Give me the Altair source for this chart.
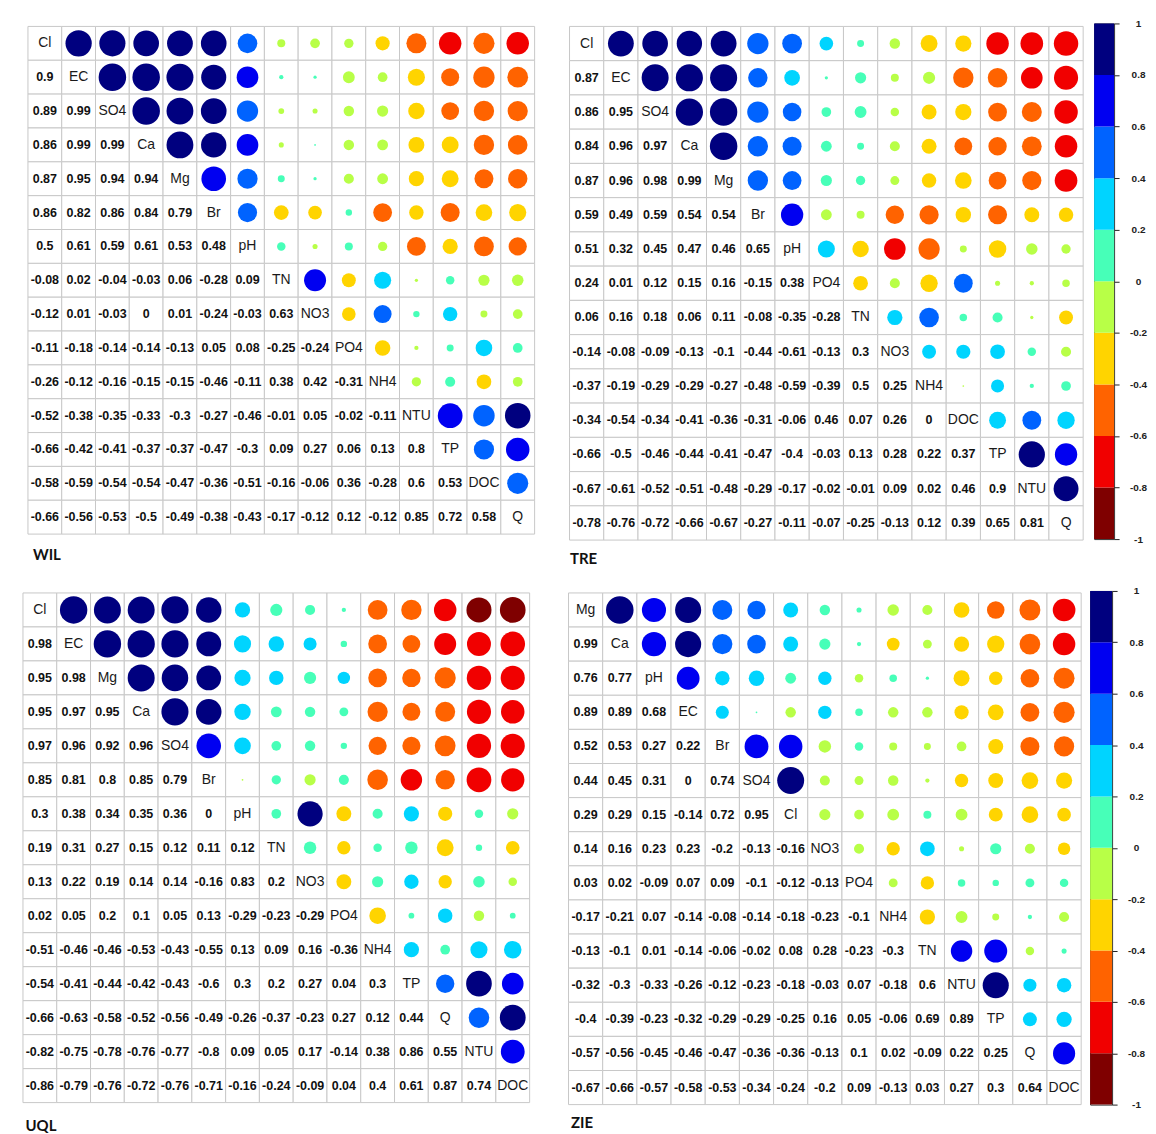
import altair as alt
import pandas as pd

# ---------------- data ----------------
WIL_vars = ["Cl", "EC", "SO4", "Ca", "Mg", "Br", "pH", "TN", "NO3", "PO4", "NH4", "NTU", "TP", "DOC", "Q"]
WIL_lower = [
    [0.9],
    [0.89, 0.99],
    [0.86, 0.99, 0.99],
    [0.87, 0.95, 0.94, 0.94],
    [0.86, 0.82, 0.86, 0.84, 0.79],
    [0.5, 0.61, 0.59, 0.61, 0.53, 0.48],
    [-0.08, 0.02, -0.04, -0.03, 0.06, -0.28, 0.09],
    [-0.12, 0.01, -0.03, 0, 0.01, -0.24, -0.03, 0.63],
    [-0.11, -0.18, -0.14, -0.14, -0.13, 0.05, 0.08, -0.25, -0.24],
    [-0.26, -0.12, -0.16, -0.15, -0.15, -0.46, -0.11, 0.38, 0.42, -0.31],
    [-0.52, -0.38, -0.35, -0.33, -0.3, -0.27, -0.46, -0.01, 0.05, -0.02, -0.11],
    [-0.66, -0.42, -0.41, -0.37, -0.37, -0.47, -0.3, 0.09, 0.27, 0.06, 0.13, 0.8],
    [-0.58, -0.59, -0.54, -0.54, -0.47, -0.36, -0.51, -0.16, -0.06, 0.36, -0.28, 0.6, 0.53],
    [-0.66, -0.56, -0.53, -0.5, -0.49, -0.38, -0.43, -0.17, -0.12, 0.12, -0.12, 0.85, 0.72, 0.58],
]
WIL_below = [("NTU", "TP"), ("NTU", "DOC")]

TRE_vars = ["Cl", "EC", "SO4", "Ca", "Mg", "Br", "pH", "PO4", "TN", "NO3", "NH4", "DOC", "TP", "NTU", "Q"]
TRE_lower = [
    [0.87],
    [0.86, 0.95],
    [0.84, 0.96, 0.97],
    [0.87, 0.96, 0.98, 0.99],
    [0.59, 0.49, 0.59, 0.54, 0.54],
    [0.51, 0.32, 0.45, 0.47, 0.46, 0.65],
    [0.24, 0.01, 0.12, 0.15, 0.16, -0.15, 0.38],
    [0.06, 0.16, 0.18, 0.06, 0.11, -0.08, -0.35, -0.28],
    [-0.14, -0.08, -0.09, -0.13, -0.1, -0.44, -0.61, -0.13, 0.3],
    [-0.37, -0.19, -0.29, -0.29, -0.27, -0.48, -0.59, -0.39, 0.5, 0.25],
    [-0.34, -0.54, -0.34, -0.41, -0.36, -0.31, -0.06, 0.46, 0.07, 0.26, 0],
    [-0.66, -0.5, -0.46, -0.44, -0.41, -0.47, -0.4, -0.03, 0.13, 0.28, 0.22, 0.37],
    [-0.67, -0.61, -0.52, -0.51, -0.48, -0.29, -0.17, -0.02, -0.01, 0.09, 0.02, 0.46, 0.9],
    [-0.78, -0.76, -0.72, -0.66, -0.67, -0.27, -0.11, -0.07, -0.25, -0.13, 0.12, 0.39, 0.65, 0.81],
]
TRE_below = [("NH4", "DOC")]

UQL_vars = ["Cl", "EC", "Mg", "Ca", "SO4", "Br", "pH", "TN", "NO3", "PO4", "NH4", "TP", "Q", "NTU", "DOC"]
UQL_lower = [
    [0.98],
    [0.95, 0.98],
    [0.95, 0.97, 0.95],
    [0.97, 0.96, 0.92, 0.96],
    [0.85, 0.81, 0.8, 0.85, 0.79],
    [0.3, 0.38, 0.34, 0.35, 0.36, 0],
    [0.19, 0.31, 0.27, 0.15, 0.12, 0.11, 0.12],
    [0.13, 0.22, 0.19, 0.14, 0.14, -0.16, 0.83, 0.2],
    [0.02, 0.05, 0.2, 0.1, 0.05, 0.13, -0.29, -0.23, -0.29],
    [-0.51, -0.46, -0.46, -0.53, -0.43, -0.55, 0.13, 0.09, 0.16, -0.36],
    [-0.54, -0.41, -0.44, -0.42, -0.43, -0.6, 0.3, 0.2, 0.27, 0.04, 0.3],
    [-0.66, -0.63, -0.58, -0.52, -0.56, -0.49, -0.26, -0.37, -0.23, 0.27, 0.12, 0.44],
    [-0.82, -0.75, -0.78, -0.76, -0.77, -0.8, 0.09, 0.05, 0.17, -0.14, 0.38, 0.86, 0.55],
    [-0.86, -0.79, -0.76, -0.72, -0.76, -0.71, -0.16, -0.24, -0.09, 0.04, 0.4, 0.61, 0.87, 0.74],
]
UQL_below = [("Br", "pH"), ("Br", "TP"), ("TN", "NO3"), ("TN", "TP"), ("NH4", "DOC")]

ZIE_vars = ["Mg", "Ca", "pH", "EC", "Br", "SO4", "Cl", "NO3", "PO4", "NH4", "TN", "NTU", "TP", "Q", "DOC"]
ZIE_lower = [
    [0.99],
    [0.76, 0.77],
    [0.89, 0.89, 0.68],
    [0.52, 0.53, 0.27, 0.22],
    [0.44, 0.45, 0.31, 0, 0.74],
    [0.29, 0.29, 0.15, -0.14, 0.72, 0.95],
    [0.14, 0.16, 0.23, 0.23, -0.2, -0.13, -0.16],
    [0.03, 0.02, -0.09, 0.07, 0.09, -0.1, -0.12, -0.13],
    [-0.17, -0.21, 0.07, -0.14, -0.08, -0.14, -0.18, -0.23, -0.1],
    [-0.13, -0.1, 0.01, -0.14, -0.06, -0.02, 0.08, 0.28, -0.23, -0.3],
    [-0.32, -0.3, -0.33, -0.26, -0.12, -0.23, -0.18, -0.03, 0.07, -0.18, 0.6],
    [-0.4, -0.39, -0.23, -0.32, -0.29, -0.29, -0.25, 0.16, 0.05, -0.06, 0.69, 0.89],
    [-0.57, -0.56, -0.45, -0.46, -0.47, -0.36, -0.36, -0.13, 0.1, 0.02, -0.09, 0.22, 0.25],
    [-0.67, -0.66, -0.57, -0.58, -0.53, -0.34, -0.24, -0.2, 0.09, -0.13, 0.03, 0.27, 0.3, 0.64],
]
ZIE_below = [("Mg", "TP"), ("NO3", "DOC")]

bin_breaks = [-0.8, -0.6, -0.4, -0.2, 0, 0.2, 0.4, 0.6, 0.8]
bin_colors = ["#7F0000", "#F10000", "#FF6300", "#FFD400", "#B8FF47",
              "#47FFB8", "#00D4FF", "#0063FF", "#0000F1", "#00007F"]
cb_edges = [-1, -0.8, -0.6, -0.4, -0.2, 0, 0.2, 0.4, 0.6, 0.8, 1]

NUM_FONT = "Liberation Sans, Arial, Helvetica, sans-serif"
TITLE_FONT = "Lato, Open Sans, sans-serif"

color_scale = alt.Scale(type="threshold", domain=bin_breaks, range=bin_colors)


def fmt(v):
    s = f"{v:g}"
    return "0" if s in ("-0", "0") else s


def build_df(vars_, lower, below):
    below_set = set(below) | set((b, a) for a, b in below)
    rows = []
    for i, a in enumerate(vars_):
        for j, b in enumerate(vars_):
            if i == j:
                rows.append(dict(row=a, col=b, kind="diag", r=1.0, cr=1.0, ar=1.0, label=a))
            else:
                r = lower[i - 1][j] if i > j else lower[j - 1][i]
                cr = r - 1e-6 if (a, b) in below_set else r
                rows.append(dict(row=a, col=b, kind="lower" if i > j else "upper",
                                 r=r, cr=cr, ar=abs(r), label=fmt(r)))
    return pd.DataFrame(rows)


def panel(name, vars_, lower, below, w, h, dx0, dy0, title_dx, title_off):
    df = build_df(vars_, lower, below)
    X = alt.X("col:N", sort=vars_, axis=None,
              scale=alt.Scale(paddingInner=0, paddingOuter=0, range=[dx0, dx0 + w]))
    Y = alt.Y("row:N", sort=vars_, axis=None,
              scale=alt.Scale(paddingInner=0, paddingOuter=0, range=[dy0, dy0 + h]))
    base = alt.Chart(df)
    grid = base.mark_rect(fill="white", stroke="#c8c8c8", strokeWidth=1).encode(x=X, y=Y)
    circ = base.transform_filter("datum.kind == 'upper'").mark_circle(opacity=1).encode(
        x=X, y=Y,
        size=alt.Size("ar:Q", scale=alt.Scale(domain=[0, 1], range=[3, 770]), legend=None),
        color=alt.Color("cr:Q", scale=color_scale, legend=None),
    )
    nums = base.transform_filter("datum.kind == 'lower'").mark_text(
        font=NUM_FONT, fontSize=12.5, fontWeight="bold", color="#111111"
    ).encode(x=X, y=Y, text="label:N")
    diag = base.transform_filter("datum.kind == 'diag'").mark_text(
        font=NUM_FONT, fontSize=14, fontWeight="normal", color="#1a1a1a"
    ).encode(x=X, y=Y, text="label:N")
    return alt.layer(grid, circ, nums, diag).properties(
        width=w + dx0, height=h + dy0,
        title=alt.TitleParams(name, orient="bottom", anchor="start", fontSize=15,
                              fontWeight="bold", font=TITLE_FONT, color="#111111",
                              offset=title_off, dx=title_dx),
    )


def colorbar(h, w):
    cdf = pd.DataFrame({"lo": cb_edges[:-1], "hi": cb_edges[1:]})
    cdf["mid"] = (cdf["lo"] + cdf["hi"]) / 2
    return alt.Chart(cdf).mark_rect().encode(
        y=alt.Y("lo:Q", scale=alt.Scale(domain=[-1, 1], nice=False, zero=False),
                axis=alt.Axis(orient="right", values=cb_edges, tickSize=5, tickColor="#222",
                              domain=False, grid=False, title=None,
                              labelExpr="toString(datum.value)", labelAlign="center",
                              labelPadding=19, labelFontSize=10, labelFontWeight="bold",
                              labelFont=NUM_FONT, labelColor="#222")),
        y2="hi:Q",
        color=alt.Color("mid:Q", scale=color_scale, legend=None),
    ).properties(width=w, height=h, view=alt.ViewBackground(stroke="#333", strokeWidth=1))


wil = panel("WIL", WIL_vars, WIL_lower, WIL_below, 508, 509, 5, 3, 10, 13)
tre = panel("TRE", TRE_vars, TRE_lower, TRE_below, 515, 515, 0, 3, 1, 11)
uql = panel("UQL", UQL_vars, UQL_lower, UQL_below, 508, 511, 0, 2, 3, 16)
zie = panel("ZIE", ZIE_vars, ZIE_lower, ZIE_below, 514, 513, 0, 2, 3, 11)

row1 = alt.hconcat(alt.hconcat(wil, tre, spacing=33), colorbar(517, 20), spacing=9)
row2 = alt.hconcat(alt.hconcat(uql, zie, spacing=37), colorbar(515, 22), spacing=7)

chart = alt.vconcat(row1, row2, spacing=18).properties(
    padding={"left": 14, "top": 8, "right": 0, "bottom": 0},
    background="white",
).configure_view(stroke=None).configure_concat(spacing=0)

chart.save("out.html", embed_options={"renderer": "svg", "actions": False})
